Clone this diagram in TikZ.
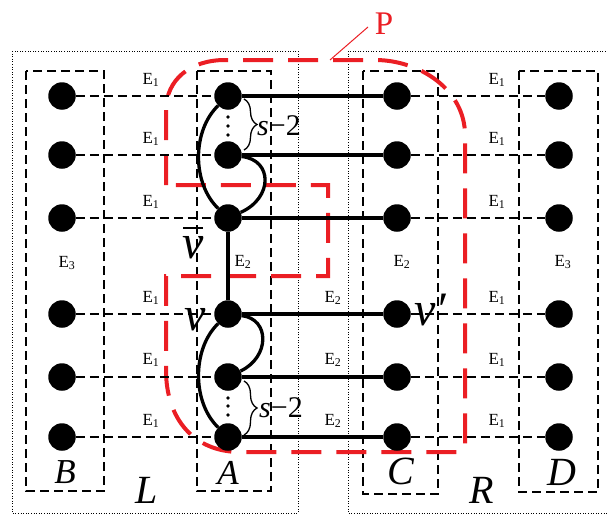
\documentclass[tikz,border=0pt]{standalone}
\usepackage{fontspec}
\setmainfont{Liberation Serif}
\usetikzlibrary{decorations.pathreplacing}
\pgfdeclarelayer{front}
\pgfsetlayers{main,front}
\definecolor{pred}{RGB}{235,30,36}
\begin{document}
\begin{tikzpicture}[x=1pt,y=-1pt,
  dot/.style={circle,fill=black,inner sep=0pt,minimum size=27.5pt},
  dottedbox/.style={line width=0.9pt,dash pattern=on 1pt off 1.6pt},
  dashbox/.style={line width=1.25pt,dash pattern=on 9pt off 5pt},
  dashlink/.style={line width=1.25pt,dash pattern=on 9pt off 5pt},
  heavy/.style={line width=3.3pt},
  redpath/.style={pred,line width=4pt,dash pattern=on 30pt off 15pt},
  elab/.style={inner sep=0pt,font=\fontsize{17}{17}\selectfont},
  letA/.style={inner sep=0pt,font=\fontsize{35}{35}\selectfont\itshape},
  letC/.style={inner sep=0pt,font=\fontsize{40}{40}\selectfont\itshape},
  letL/.style={inner sep=0pt,font=\fontsize{40}{40}\selectfont\itshape},
  letv/.style={inner sep=0pt,font=\fontsize{48}{48}\selectfont\itshape},
  slab/.style={inner sep=0pt,font=\fontsize{30}{30}\selectfont},
  bracestyle/.style={decorate,decoration={brace,amplitude=13pt},line width=1.3pt}
]
\useasboundingbox (0,0) rectangle (607,514);

% outer dotted regions
\draw[dottedbox] (12,51) rectangle (298,513);
\draw[dottedbox] (348,51) rectangle (609,513);

% dashed column boxes
\draw[dashbox] (26,71) rectangle (104,491);
\draw[dashbox] (197,71) rectangle (271,491);
\draw[dashbox] (363,71) rectangle (438,494);
\draw[dashbox] (519,71) rectangle (598,492);

% red region P
\draw[redpath] (166,185) -- (166,110) .. controls (166,80) and (190,60) .. (225,60)
  -- (375,60) .. controls (420,60) and (465,90) .. (465,135)
  -- (465,446) .. controls (465,450) and (463,452) .. (459,452)
  -- (240,452) .. controls (195,452) and (166,420) .. (166,370)
  -- (166,276) -- (328,276) -- (328,185) -- cycle;

% vertices
\begin{pgfonlayer}{front}
\foreach \i/\y in {1/96,2/155,3/218,4/314,5/377,6/437}{
  \node[dot] (b\i) at (62,\y) {};
  \node[dot] (a\i) at (228,\y) {};
  \node[dot] (c\i) at (397,\y) {};
  \node[dot] (d\i) at (559,\y) {};
}
\end{pgfonlayer}

% connectors
\foreach \i in {1,...,6}{
  \draw[dashlink] (b\i) -- (a\i);
  \draw[dashlink] (c\i) -- (d\i);
  \draw[heavy] (a\i) -- (c\i);
}
\draw[heavy] (a3) -- (a4);
\draw[heavy] (a1) .. controls +(-36,35) and +(-36,-35) .. (a3);
\draw[heavy] (a2) .. controls +(45,5) and +(45,-20) .. (a3);
\draw[heavy] (a4) .. controls +(-36,35) and +(-36,-35) .. (a6);
\draw[heavy] (a4) .. controls +(42,5) and +(42,-20) .. (a5);

% ellipsis dots
\foreach \y in {117,126,135,398,406,415}{
  \fill (228,\y) circle (1.9);
}

% braces
\draw[bracestyle] (244,99) -- (244,150);
\draw[bracestyle] (244,381) -- (244,435);
\node[slab,anchor=base west] (s1) at (257,135) {\textit{s}−2};
\node[slab,anchor=base west] (s2) at (259,417) {\textit{s}−2};

% edge labels
\foreach \y in {80,139,202,298,360,421}{
  \node[elab] at (151,\y) {E\textsubscript{1}};
  \node[elab] at (497,\y) {E\textsubscript{1}};
}
\foreach \y in {298,360,421}{
  \node[elab] at (333,\y) {E\textsubscript{2}};
}
\node[elab] (e3b) at (67,263) {E\textsubscript{3}};
\node[elab] (e2a) at (243,262) {E\textsubscript{2}};
\node[elab] (e2c) at (402,262) {E\textsubscript{2}};
\node[elab] (e3d) at (563,262) {E\textsubscript{3}};

% vertex labels
\node[letv,anchor=base] (vb) at (193,258) {v};
\draw[line width=1.6pt] (183,228) -- (203,228);
\node[letv,anchor=base] (v) at (195,330) {v};
\node[letv,anchor=base west] (vp) at (414,325) {v′};

% set labels
\node[letA] (lB) at (65,472) {B};
\node[letA] (lA) at (228,473) {A};
\node[letC] (lC) at (401,471) {C};
\node[letC] (lD) at (562,472) {D};
\node[letL] (lL) at (147,490) {L};
\node[letL] (lR) at (482,490) {R};

% P label
\node[inner sep=0pt,text=pred,font=\fontsize{33}{33}\selectfont] (P) at (384,24) {P};
\draw[pred,line width=1pt] (330,60) -- (368,27);
\end{tikzpicture}
\end{document}
